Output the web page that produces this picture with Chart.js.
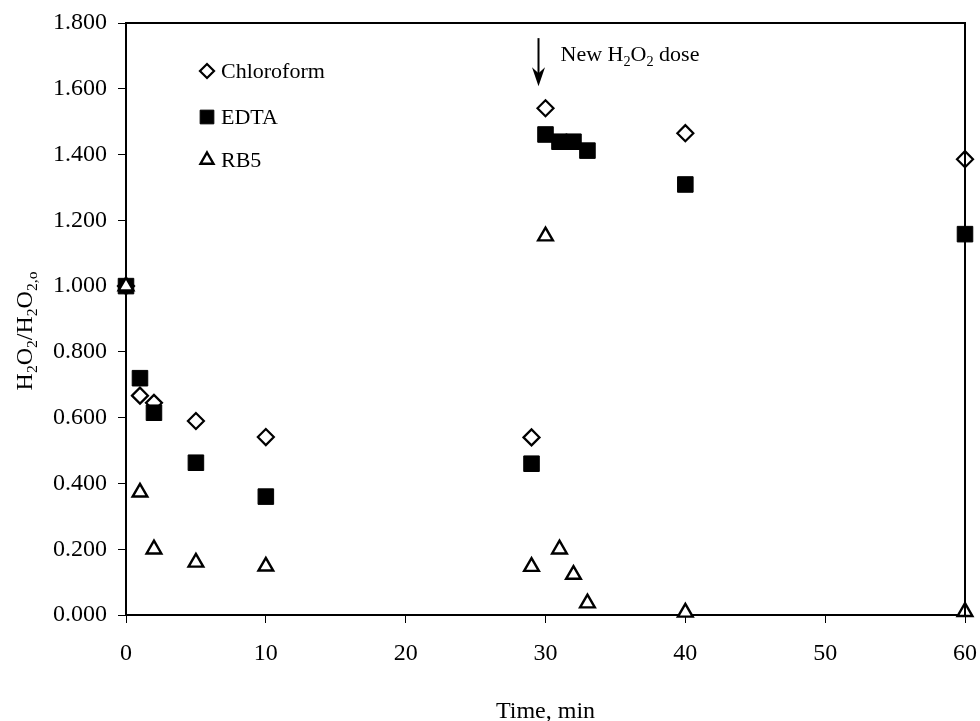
<!DOCTYPE html>
<html>
<head>
<meta charset="utf-8">
<title>H2O2 decay</title>
<script src="https://cdn.jsdelivr.net/npm/chart.js@4.4.1/dist/chart.umd.min.js"></script>
<style>
  html, body { margin: 0; padding: 0; background: #fff; }
  .chart-box { width: 980px; height: 721px; }
</style>
</head>
<body>
<div class="chart-box">
  <canvas id="peroxideChart"></canvas>
</div>
<script>
  // sampling times, min
  const chloroformTime = [0, 1, 2, 5, 10, 29, 30, 40, 60];
  const edtaTime = [0, 1, 2, 5, 10, 29, 30, 31, 32, 33, 40, 60];
  const rb5Time = [0, 1, 2, 5, 10, 29, 30, 31, 32, 33, 40, 60];

  // H2O2 / H2O2,o
  const chloroformVals = [1.0, 0.667, 0.645, 0.59, 0.541, 0.54, 1.541, 1.465, 1.386];
  const edtaVals = [1.0, 0.72, 0.615, 0.463, 0.36, 0.46, 1.461, 1.439, 1.439, 1.412, 1.309, 1.158];
  const rb5Vals = [1.0, 0.373, 0.2, 0.16, 0.148, 0.147, 1.152, 0.2, 0.123, 0.036, 0.008, 0.01];

  const xTicks = [0, 10, 20, 30, 40, 50, 60];
  const yTicks = [0, 0.2, 0.4, 0.6, 0.8, 1.0, 1.2, 1.4, 1.6, 1.8];

  const seriesNames = ["Chloroform", "EDTA", "RB5"];
  const doseTime = 29.5; // second dose added here

  const serif = "'Liberation Serif', 'Times New Roman', serif";

  function toPoints(xs, ys) {
    return xs.map((x, i) => ({ x: x, y: ys[i] }));
  }

  // draws text pieces, some of them as subscripts
  function drawRich(ctx, parts, x, y, size) {
    let cx = x;
    parts.forEach(p => {
      const sub = p[1];
      ctx.font = (sub ? size * 0.65 : size) + "px " + serif;
      ctx.fillText(p[0], cx, sub ? y + size * 0.22 : y);
      cx += ctx.measureText(p[0]).width;
    });
    return cx - x;
  }

  function richWidth(ctx, parts, size) {
    let w = 0;
    parts.forEach(p => {
      ctx.font = (p[1] ? size * 0.65 : size) + "px " + serif;
      w += ctx.measureText(p[0]).width;
    });
    return w;
  }

  const markerStyles = [
    { pointStyle: "rectRot", radius: 8, borderWidth: 2.2, fill: "#fff" },
    { pointStyle: "rect", radius: 11, borderWidth: 1, fill: "#000" },
    { pointStyle: "triangle", radius: 8.5, borderWidth: 2.4, fill: "#fff" },
  ];

  const extras = {
    id: "extras",
    afterDraw(chart) {
      const { ctx, chartArea: a, scales } = chart;
      ctx.save();

      // top and right frame
      ctx.strokeStyle = "#000";
      ctx.lineWidth = 2;
      ctx.beginPath();
      ctx.moveTo(a.left, a.top);
      ctx.lineTo(a.right, a.top);
      ctx.lineTo(a.right, a.bottom);
      ctx.stroke();

      // legend in the upper left corner
      const legendRows = [71, 117, 160];
      seriesNames.forEach((name, i) => {
        const m = markerStyles[i];
        ctx.fillStyle = m.fill;
        ctx.strokeStyle = "#000";
        ctx.lineWidth = m.borderWidth;
        Chart.helpers.drawPoint(ctx, {
          pointStyle: m.pointStyle,
          radius: m.radius * 0.88,
          borderWidth: m.borderWidth,
          rotation: 0,
        }, 207, legendRows[i]);
        ctx.fillStyle = "#000";
        ctx.font = "22px " + serif;
        ctx.textBaseline = "middle";
        ctx.textAlign = "left";
        ctx.fillText(name, 221, legendRows[i] + 1);
      });

      // arrow marking the new dose
      const ax = scales.x.getPixelForValue(doseTime);
      const yTop = scales.y.getPixelForValue(1.754);
      const yTip = scales.y.getPixelForValue(1.608);
      ctx.strokeStyle = "#000";
      ctx.fillStyle = "#000";
      ctx.lineWidth = 2;
      ctx.beginPath();
      ctx.moveTo(ax, yTop);
      ctx.lineTo(ax, yTip - 10);
      ctx.stroke();
      ctx.beginPath();
      ctx.moveTo(ax, yTip);
      ctx.lineTo(ax - 6.5, yTip - 19);
      ctx.lineTo(ax, yTip - 13);
      ctx.lineTo(ax + 6.5, yTip - 19);
      ctx.closePath();
      ctx.fill();

      ctx.textBaseline = "alphabetic";
      ctx.textAlign = "left";
      drawRich(ctx, [["New H", 0], ["2", 1], ["O", 0], ["2", 1], [" dose", 0]], ax + 22, 61, 22);

      // axis titles
      const xTitle = [["Time, min", 0]];
      const tw = richWidth(ctx, xTitle, 24);
      drawRich(ctx, xTitle, (a.left + a.right) / 2 - tw / 2, 718, 24);

      const yTitle = [["H", 0], ["2", 1], ["O", 0], ["2", 1], ["/H", 0], ["2", 1], ["O", 0], ["2,o", 1]];
      const yw = richWidth(ctx, yTitle, 24);
      ctx.translate(32, 331);
      ctx.rotate(-Math.PI / 2);
      drawRich(ctx, yTitle, -yw / 2, 0, 24);

      ctx.restore();
    },
  };

  // lower order is painted last, so RB5 sits on top of EDTA, EDTA on top of chloroform
  const datasets = [
    { label: seriesNames[0], data: toPoints(chloroformTime, chloroformVals), order: 3 },
    { label: seriesNames[1], data: toPoints(edtaTime, edtaVals), order: 2 },
    { label: seriesNames[2], data: toPoints(rb5Time, rb5Vals), order: 1 },
  ].map((d, i) => {
    const m = markerStyles[i];
    return Object.assign(d, {
      pointStyle: m.pointStyle,
      pointRadius: m.radius,
      pointHoverRadius: m.radius,
      pointBorderWidth: m.borderWidth,
      pointBackgroundColor: m.fill,
      pointBorderColor: "#000",
      showLine: false,
      clip: false,
    });
  });

  const ctx = document.getElementById("peroxideChart").getContext("2d");
  new Chart(ctx, {
    type: "scatter",
    data: { datasets: datasets },
    options: {
      responsive: true,
      maintainAspectRatio: false,
      animation: false,
      layout: { padding: { left: 0, right: 15, top: 23, bottom: 0 } },
      plugins: {
        legend: { display: false },
        tooltip: { enabled: false },
      },
      scales: {
        x: {
          type: "linear",
          min: 0,
          max: 60,
          afterBuildTicks: s => { s.ticks = xTicks.map(v => ({ value: v })); },
          afterFit: s => {
            s.height = 106;
            s.paddingLeft = 0;
            s.paddingRight = 0;
          },
          border: { display: true, color: "#000", width: 2 },
          grid: { display: true, drawOnChartArea: false, drawTicks: true, tickLength: 8, color: "#000", tickWidth: 1 },
          ticks: {
            color: "#000",
            padding: 16,
            font: { family: serif, size: 24 },
          },
        },
        y: {
          type: "linear",
          min: 0,
          max: 1.8,
          afterBuildTicks: s => { s.ticks = yTicks.map(v => ({ value: v })); },
          afterFit: s => {
            s.width = 126;
            s.paddingTop = 0;
            s.paddingBottom = 0;
          },
          border: { display: true, color: "#000", width: 2 },
          grid: { display: true, drawOnChartArea: false, drawTicks: true, tickLength: 8, color: "#000", tickWidth: 1 },
          ticks: {
            color: "#000",
            padding: 11,
            font: { family: serif, size: 24 },
            callback: v => v.toFixed(3),
          },
        },
      },
    },
    plugins: [extras],
  });
</script>
</body>
</html>
